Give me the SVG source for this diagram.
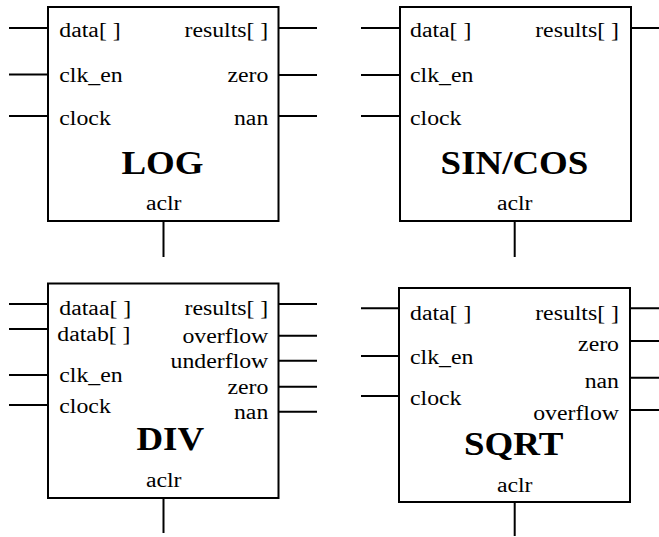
<svg xmlns="http://www.w3.org/2000/svg" width="659" height="537" viewBox="0 0 659 537">
  <style>
    .box { fill: #fff; stroke: #000; stroke-width: 2; }
    .wire { stroke: #000; stroke-width: 2; fill: none; }
    text { font-family: 'Liberation Serif', 'Times New Roman', Tinos, serif; fill: #000; }
    .lbl { font-size: 20.5px; }
    .end { text-anchor: end; }
    .mid { text-anchor: middle; }
    .title { font-size: 33px; font-weight: bold; text-anchor: middle; }
  </style>
  <rect width="659" height="537" fill="#fff"/>

  <!-- port wires -->
  <g id="connectors">
    <!-- LOG -->
    <path class="wire" d="M9 28H48 M9 74.5H48 M9 116H48 M278 28H317 M278 75H317 M278 116H317 M163.5 221V257"/>
    <!-- SIN/COS -->
    <path class="wire" d="M361 28H400 M361 75H400 M361 116H400 M631 28H659 M514.7 221V257"/>
    <!-- DIV -->
    <path class="wire" d="M9 304H48 M9 329H48 M9 375H48 M9 405H48 M278 304H317 M278 335.7H317 M278 360.7H317 M278 386.7H317 M278 411.7H317 M163.5 498V533"/>
    <!-- SQRT -->
    <path class="wire" d="M361 308.3H399 M361 356H399 M361 396H399 M630 308.3H659 M630 341H659 M630 377.7H659 M630 410H659 M514.7 502V536"/>
  </g>

  <g id="log" font-family="Liberation Serif, serif">
    <rect class="box" x="48" y="7" width="230.5" height="214"/>
    <text class="lbl" transform="translate(59.3 37) scale(1.16 1)">data[ ]</text>
    <text class="lbl" transform="translate(59.3 82) scale(1.16 1)">clk_en</text>
    <text class="lbl" transform="translate(59.3 125) scale(1.16 1)">clock</text>
    <text class="lbl end" transform="translate(268.3 37) scale(1.16 1)">results[ ]</text>
    <text class="lbl end" transform="translate(268.3 82) scale(1.16 1)">zero</text>
    <text class="lbl end" transform="translate(268.3 124.5) scale(1.16 1)">nan</text>
    <text class="title" transform="translate(162.5 174) scale(1.12 1)">LOG</text>
    <text class="lbl mid" transform="translate(163.7 210) scale(1.16 1)">aclr</text>
  </g>

  <g id="sincos" font-family="Liberation Serif, serif">
    <rect class="box" x="400" y="7" width="231" height="214"/>
    <text class="lbl" transform="translate(410 37) scale(1.16 1)">data[ ]</text>
    <text class="lbl" transform="translate(410 82) scale(1.16 1)">clk_en</text>
    <text class="lbl" transform="translate(410 125) scale(1.16 1)">clock</text>
    <text class="lbl end" transform="translate(619 37) scale(1.16 1)">results[ ]</text>
    <text class="title" transform="translate(514.5 174) scale(1.12 1)">SIN/COS</text>
    <text class="lbl mid" transform="translate(514.7 210) scale(1.16 1)">aclr</text>
  </g>

  <g id="div" font-family="Liberation Serif, serif">
    <rect class="box" x="48" y="283.5" width="230.5" height="214.5"/>
    <text class="lbl" transform="translate(59.3 315) scale(1.16 1)">dataa[ ]</text>
    <text class="lbl" transform="translate(57.3 340.7) scale(1.16 1)">datab[ ]</text>
    <text class="lbl" transform="translate(59.3 381.7) scale(1.16 1)">clk_en</text>
    <text class="lbl" transform="translate(59.3 412.7) scale(1.16 1)">clock</text>
    <text class="lbl end" transform="translate(268.3 315) scale(1.16 1)">results[ ]</text>
    <text class="lbl end" transform="translate(268.3 342.7) scale(1.16 1)">overflow</text>
    <text class="lbl end" transform="translate(268.3 368.3) scale(1.16 1)">underflow</text>
    <text class="lbl end" transform="translate(268.3 394.3) scale(1.16 1)">zero</text>
    <text class="lbl end" transform="translate(268.3 419.3) scale(1.16 1)">nan</text>
    <text class="title" transform="translate(170.3 450) scale(1.12 1)">DIV</text>
    <text class="lbl mid" transform="translate(163.7 486.7) scale(1.16 1)">aclr</text>
  </g>

  <g id="sqrt" font-family="Liberation Serif, serif">
    <rect class="box" x="399" y="288" width="231" height="214"/>
    <text class="lbl" transform="translate(410 320) scale(1.16 1)">data[ ]</text>
    <text class="lbl" transform="translate(410 364.3) scale(1.16 1)">clk_en</text>
    <text class="lbl" transform="translate(410 405) scale(1.16 1)">clock</text>
    <text class="lbl end" transform="translate(619 320) scale(1.16 1)">results[ ]</text>
    <text class="lbl end" transform="translate(619 351) scale(1.16 1)">zero</text>
    <text class="lbl end" transform="translate(619 387.7) scale(1.16 1)">nan</text>
    <text class="lbl end" transform="translate(619 420) scale(1.16 1)">overflow</text>
    <text class="title" transform="translate(513.7 455) scale(1.12 1)">SQRT</text>
    <text class="lbl mid" transform="translate(514.7 491.7) scale(1.16 1)">aclr</text>
  </g>
</svg>
